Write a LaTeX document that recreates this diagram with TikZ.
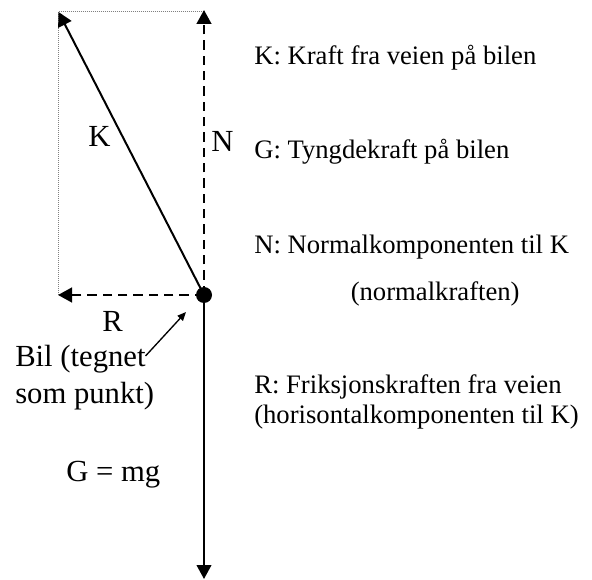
\documentclass[tikz,border=0pt]{standalone}
\usepackage{fontspec}
\setmainfont{Liberation Serif}
\usetikzlibrary{arrows.meta}
\begin{document}
\begin{tikzpicture}[x=0.75pt,y=-0.75pt,
  force/.style={line width=1.5pt,-{Triangle[length=10.5pt,width=11pt]}},
  comp/.style={force,line width=1.8pt,dash pattern=on 7pt off 4.5pt},
  lbl/.style={font=\fontsize{23}{26}\selectfont,inner sep=0pt,anchor=base west},
  txt/.style={font=\fontsize{20}{23}\selectfont,inner sep=0pt,anchor=base west}]
\useasboundingbox (0,0) rectangle (592,580);
\coordinate (car) at (204,295);
\coordinate (Ktip) at (58.5,12);
\coordinate (Ntip) at (204,10);
\coordinate (Rtip) at (58,295);
\coordinate (Gtip) at (204,579);
\coordinate (corner) at (58.5,11);
\draw[densely dotted, line width=0.5pt, gray] (car -| corner) -- (corner) -- (Ntip |- corner);
\draw[comp] (car) -- (Ntip);
\draw[comp] (car) -- (Rtip);
\draw[force] (car) -- (Gtip);
\draw[force] (car) -- (Ktip);
\fill (car) circle (8);
\node[lbl] (K) at (88,147) {K};
\node[lbl] (N) at (211,152) {N};
\node[lbl] (R) at (102,332) {R};
\node[lbl] (bil1) at (15,367) {Bil (tegnet};
\node[lbl] (bil2) at (15,404) {som punkt)};
\node[lbl] (G) at (66,481.5) {G = mg};
\coordinate (bilarrow) at (145.5,356);
\coordinate (biltip) at (186,312);
\draw[line width=1pt,-{Triangle[length=6.5pt,width=5.5pt]}] (bilarrow) -- (biltip);
\node[txt] (t1) at (254,64.5) {K: Kraft fra veien på bilen};
\node[txt] (t2) at (254,158.5) {G: Tyngdekraft på bilen};
\node[txt] (t3) at (254,254) {N: Normalkomponenten til K};
\node[txt] (t4) at (350.5,300.5) {(normalkraften)};
\node[txt] (t5) at (254,394) {R: Friksjonskraften fra veien};
\node[txt] (t6) at (254,424) {(horisontalkomponenten til K)};
\end{tikzpicture}
\end{document}
